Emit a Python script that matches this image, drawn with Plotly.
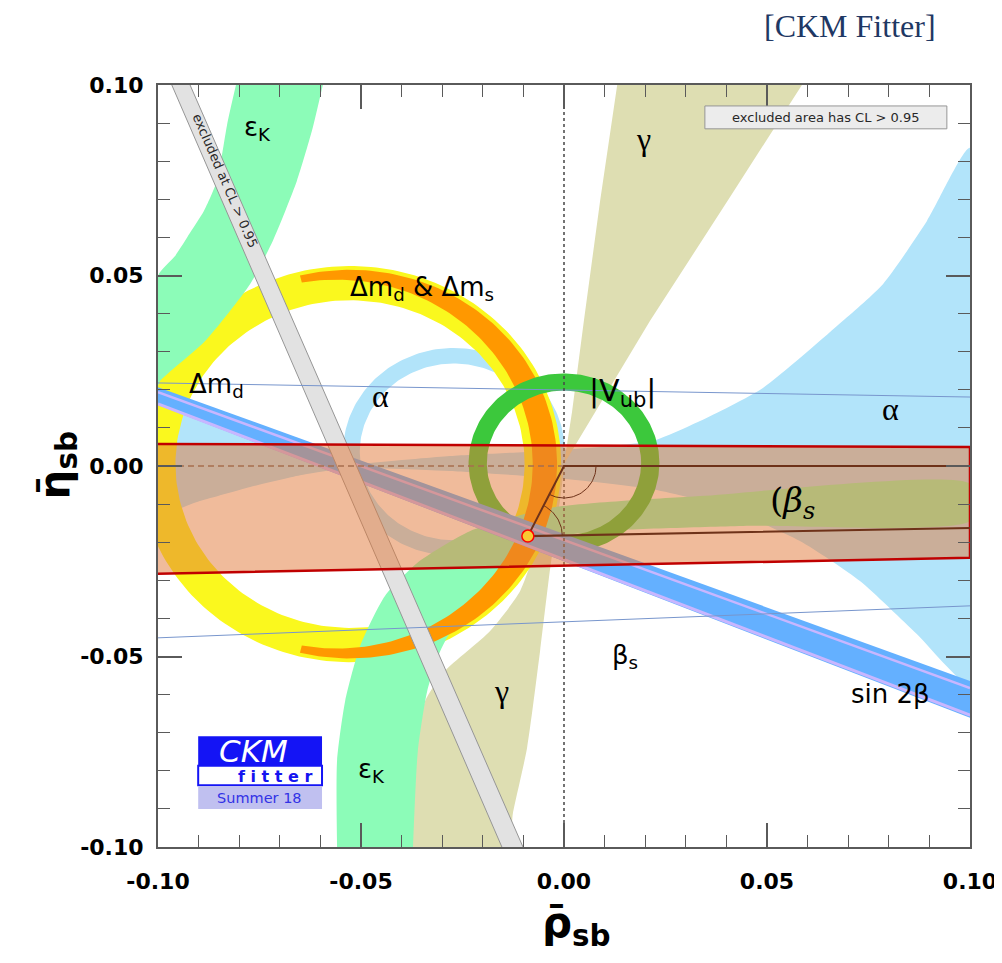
import numpy as np
import plotly.graph_objects as go

# ---------------- data (rho_bar_sb , eta_bar_sb) ----------------
epsK_upper_x = [-0.0808, -0.0828, -0.0855, -0.0887, -0.0921, -0.0958, -0.1, -0.1, -0.0995, -0.0884, -0.0773, -0.0717, -0.0658, -0.0621, -0.0594]
epsK_upper_y = [0.1, 0.0906, 0.0748, 0.0669, 0.0612, 0.0551, 0.0499, 0.021, 0.0223, 0.0328, 0.0478, 0.0591, 0.0748, 0.0879, 0.1]
epsK_lower_x = [-0.0559, -0.0559, -0.0539, -0.0502, -0.0441, -0.0355, -0.0232, -0.0034, 0.0335, 0.1, 0.1, 0.0458, 0.0089, -0.0034, -0.0121, -0.0195, -0.0264, -0.0305, -0.0337, -0.036, -0.0372]
epsK_lower_y = [-0.1, -0.0774, -0.0617, -0.0472, -0.0341, -0.0249, -0.0171, -0.011, -0.0079, -0.0047, -0.0144, -0.0157, -0.0171, -0.0189, -0.0236, -0.0315, -0.0407, -0.0486, -0.0591, -0.0748, -0.1]

gamma_upper_x = [0.0131, 0.0089, 0.0049, 0.002, 0.0, 0.0064, 0.0212, 0.0409, 0.0586]
gamma_upper_y = [0.1, 0.0696, 0.0381, 0.0144, 0.0005, 0.0118, 0.0381, 0.0706, 0.1]
gamma_lower_x = [0.0, -0.0047, -0.0108, -0.0182, -0.0293, -0.0342, -0.0362, -0.0372, -0.0138, -0.0126, -0.0091, -0.0059, -0.0034, -0.001]
gamma_lower_y = [-0.0005, -0.0144, -0.0328, -0.0433, -0.0538, -0.0617, -0.074, -0.1, -0.1, -0.0913, -0.074, -0.0486, -0.0268, -0.0092]

alpha_right_x = [-0.0527, -0.0281, -0.0059, 0.0089, 0.0219, 0.0335, 0.049, 0.0687, 0.0786, 0.0894, 0.1, 0.1, 0.0869, 0.0729, 0.0581, 0.0384, 0.0212, 0.0002, -0.0281, -0.0527]
alpha_right_y = [0.0003, 0.0026, 0.0039, 0.005, 0.0066, 0.0118, 0.0205, 0.0381, 0.0478, 0.0643, 0.0835, -0.0572, -0.0441, -0.0302, -0.0197, -0.0105, -0.006, -0.0034, -0.0013, -0.0003]
alpha_left_x = [-0.0527, -0.0658, -0.0805, -0.0958, -0.1, -0.1, -0.0897, -0.0773, -0.065, -0.0527]
alpha_left_y = [0.0, 0.0066, 0.0123, 0.0171, 0.0189, -0.0123, -0.0092, -0.0055, -0.0024, -0.0003]
alpha_ring_center = [-0.0271, 0.0037]
alpha_ring_radii = [0.0232, 0.0273]

dm_ring_center = [-0.0527, 0.0005]
dm_ring_radii = [0.043, 0.052]
dms_outer_radius = 0.051
dms_inner_radius = 0.0483
dms_inner_variation = 0.0033
dms_half_span_deg = 104

vub_ring_center = [0.0, 0.0008]
vub_ring_radii = [0.019, 0.0235]

sin2b_x = [-0.1, 0.1]
sin2b_upper_y = [0.0207, -0.0564]
sin2b_lower_y = [0.016, -0.0661]
sin2b_stripe1_y = [0.0194, -0.0583]
sin2b_stripe2_y = [0.0163, -0.0654]

excl_y = [0.1, -0.1]
excl_left_x = [-0.0966, -0.0153]
excl_right_x = [-0.0921, -0.0101]

thin_x = [-0.1, 0.1]
thin1_y = [0.0218, 0.0181]
thin2_y = [-0.0451, -0.0367]

box_x = [-0.1012, 0.1, 0.1, -0.1012]
box_y = [0.0058, 0.005, -0.0241, -0.0283]

tri_x = [0.1, 0.0, -0.0089, 0.1]
tri_y = [0.0, 0.0, -0.0184, -0.0163]
apex = [-0.0089, -0.0184]

tick_vals = [-0.1, -0.05, 0.0, 0.05, 0.1]
tick_text = ["-0.10", "-0.05", "0.00", "0.05", "0.10"]

label_text = ["ε<sub>K</sub>", "ε<sub>K</sub>", "Δm<sub>d</sub> &amp; Δm<sub>s</sub>", "Δm<sub>d</sub>",
              "α", "α", "γ", "γ", "|V<sub>ub</sub>|", "β<sub>s</sub>", "sin 2β"]
label_x = [-0.0754, -0.0473, -0.035, -0.0855, -0.0453, 0.0803, 0.0195, -0.0153, 0.0145, 0.015, 0.0803]
label_y = [0.0885, -0.080, 0.0467, 0.021, 0.0184, 0.015, 0.0858, -0.059, 0.0192, -0.0499, -0.0598]

# ---------------- colours ----------------
C_EPSK = "rgb(140,252,184)"
C_GAMMA = "rgb(222,222,178)"
C_ALPHA = "rgb(178,228,250)"
C_YELLOW = "rgb(250,248,30)"
C_ORANGE = "rgb(255,152,0)"
C_VUB = "rgb(60,200,60)"
C_SIN2B = "rgb(100,176,255)"
C_LILAC = "rgb(200,182,255)"
C_GREY = "rgb(226,226,226)"
C_GREYEDGE = "rgb(150,150,150)"
C_BROWN = "rgb(110,50,25)"
C_AXIS = "rgb(90,90,90)"

fig = go.Figure()


def poly(x, y, color, spline=True):
    fig.add_trace(go.Scatter(x=x, y=y, mode="lines", fill="toself", fillcolor=color,
                             line=dict(width=0, shape="spline" if spline else "linear", smoothing=0.6),
                             hoverinfo="skip", showlegend=False))


def ring(center, radii, n=240):
    t = np.linspace(0, 2 * np.pi, n)
    xo = center[0] + radii[1] * np.cos(t)
    yo = center[1] + radii[1] * np.sin(t)
    xi = center[0] + radii[0] * np.cos(t[::-1])
    yi = center[1] + radii[0] * np.sin(t[::-1])
    return np.concatenate([xo, xi]), np.concatenate([yo, yi])


def line(x, y, color, width=1.0, dash=None):
    fig.add_trace(go.Scatter(x=x, y=y, mode="lines", line=dict(color=color, width=width, dash=dash),
                             hoverinfo="skip", showlegend=False))


# alpha
poly(alpha_left_x, alpha_left_y, C_ALPHA)
poly(alpha_right_x, alpha_right_y, C_ALPHA)
ax_, ay_ = ring(alpha_ring_center, alpha_ring_radii)
poly(ax_, ay_, C_ALPHA, spline=False)
# gamma
poly(gamma_upper_x, gamma_upper_y, C_GAMMA, spline=False)
poly(gamma_lower_x, gamma_lower_y, C_GAMMA)
# Delta m_d ring
dx_, dy_ = ring(dm_ring_center, dm_ring_radii)
poly(dx_, dy_, C_YELLOW, spline=False)
# eps_K
poly(epsK_upper_x, epsK_upper_y, C_EPSK)
poly(epsK_lower_x, epsK_lower_y, C_EPSK)
# Delta m_s (orange part of ring)
t = np.radians(np.linspace(-dms_half_span_deg, dms_half_span_deg, 160))
r_in = dms_inner_radius - dms_inner_variation * np.cos(t)
ox = np.concatenate([dm_ring_center[0] + dms_outer_radius * np.cos(t), (dm_ring_center[0] + r_in * np.cos(t))[::-1]])
oy = np.concatenate([dm_ring_center[1] + dms_outer_radius * np.sin(t), (dm_ring_center[1] + r_in * np.sin(t))[::-1]])
poly(ox, oy, C_ORANGE, spline=False)
# |Vub| ring
vx_, vy_ = ring(vub_ring_center, vub_ring_radii)
poly(vx_, vy_, C_VUB, spline=False)
# sin 2beta band
poly(sin2b_x + sin2b_x[::-1], sin2b_upper_y + sin2b_lower_y[::-1], C_SIN2B, spline=False)
line(sin2b_x, sin2b_stripe1_y, C_LILAC, 2.5)
line(sin2b_x, sin2b_stripe2_y, C_LILAC, 3)
# excluded grey band
poly(excl_left_x + excl_right_x[::-1], excl_y + excl_y[::-1], C_GREY, spline=False)
line(excl_left_x, excl_y, C_GREYEDGE, 1)
line(excl_right_x, excl_y, C_GREYEDGE, 1)
# thin lines
line(thin_x, thin1_y, "rgb(120,150,205)", 1)
line(thin_x, thin2_y, "rgb(120,150,205)", 1)
# reference lines
line([0, 0], [-0.1, 0.1], "rgb(70,70,70)", 1.5, "3px,3px")
line([-0.1, 0], [0, 0], "rgb(110,100,100)", 1.5, "6px,4px")
# red box
fig.add_trace(go.Scatter(x=box_x + box_x[:1], y=box_y + box_y[:1], mode="lines", fill="toself",
                         fillcolor="rgba(225,119,55,0.5)", line=dict(color="rgb(192,0,0)", width=2.5),
                         hoverinfo="skip", showlegend=False))
# unitarity triangle
line(tri_x, tri_y, C_BROWN, 2)
ta = np.radians(np.linspace(0, -118, 40))
line(list(0.0079 * np.cos(ta)), list(0.0084 * np.sin(ta)), C_BROWN, 1)
tb = np.radians(np.linspace(0, 62, 30))
line(list(apex[0] + 0.0085 * np.cos(tb)), list(apex[1] + 0.009 * np.sin(tb)), C_BROWN, 1)
fig.add_trace(go.Scatter(x=[apex[0]], y=[apex[1]], mode="markers",
                         marker=dict(size=12, color="rgb(250,200,50)", line=dict(color="red", width=1.5)),
                         hoverinfo="skip", showlegend=False))

FONT = "DejaVu Sans"
SERIF = "Liberation Serif"
ann = []
for txt, x, y in zip(label_text, label_x, label_y):
    greek_only = txt in ("α", "γ")
    fam = SERIF if greek_only else FONT
    size = 32 if greek_only else (30 if txt.startswith("|") else 26)
    ann.append(dict(x=x, y=y, xref="x", yref="y", text=txt, showarrow=False,
                    font=dict(family=fam, size=size, color="black"), xanchor="center", yanchor="middle"))

ann.append(dict(x=-0.0833, y=0.0748, xref="x", yref="y", text="excluded at CL &gt; 0.95", showarrow=False,
                textangle=66.6, font=dict(family=FONT, size=13, color="rgb(40,40,40)")))
ann.append(dict(x=0.0562, y=-0.0097, xref="x", yref="y", text="(<i>β<sub>s</sub></i>", showarrow=False,
                font=dict(family="DejaVu Serif", size=34, color="black")))
ann.append(dict(x=0.0645, y=0.0915, xref="x", yref="y", text="excluded area has CL &gt; 0.95", showarrow=False,
                font=dict(family=FONT, size=13, color="rgb(40,40,40)")))
# logo texts
ann.append(dict(x=-0.0766, y=-0.0748, xref="x", yref="y", text="<i>CKM</i>", showarrow=False,
                font=dict(family=FONT, size=31, color="white")))
ann.append(dict(x=-0.0712, y=-0.0814, xref="x", yref="y", text="<b>f i t t e r</b>", showarrow=False,
                font=dict(family=FONT, size=16, color="rgb(20,20,240)")))
ann.append(dict(x=-0.0749, y=-0.0871, xref="x", yref="y", text="Summer 18", showarrow=False,
                font=dict(family=FONT, size=14.5, color="rgb(50,50,230)")))
# axis titles and header
ann.append(dict(x=0.5, y=0, xref="paper", yref="paper", xanchor="center", yanchor="top", yshift=-49, xshift=12,
                text="ρ̄<sub>sb</sub>", showarrow=False,
                font=dict(family=FONT, size=42, color="black", weight="bold")))
ann.append(dict(x=0, y=0.5, xref="paper", yref="paper", xanchor="right", yanchor="middle", xshift=-72,
                textangle=-90, text="η̄<sub>sb</sub>", showarrow=False,
                font=dict(family=FONT, size=42, color="black", weight="bold")))
ann.append(dict(x=0.852, y=1, xref="paper", yref="paper", xanchor="center", yanchor="middle", yshift=59,
                text="[CKM Fitter]", showarrow=False,
                font=dict(family=SERIF, size=32, color="rgb(31,56,100)")))

shapes = [
    dict(type="rect", xref="x", yref="y", x0=0.0347, x1=0.0943, y0=0.0885, y1=0.0945,
         fillcolor="rgb(236,236,236)", line=dict(color="rgb(150,150,150)", width=1)),
    dict(type="rect", xref="x", yref="y", x0=-0.0901, x1=-0.0596, y0=-0.0787, y1=-0.0709,
         fillcolor="rgb(20,20,245)", line=dict(width=0)),
    dict(type="rect", xref="x", yref="y", x0=-0.0901, x1=-0.0596, y0=-0.0838, y1=-0.0787,
         fillcolor="white", line=dict(color="rgb(20,20,245)", width=2)),
    dict(type="rect", xref="x", yref="y", x0=-0.0901, x1=-0.0596, y0=-0.0900, y1=-0.0840,
         fillcolor="rgb(192,192,240)", line=dict(width=0)),
]

axis_common = dict(
    range=[-0.1, 0.1], showgrid=False, zeroline=False, showline=True, linecolor=C_AXIS, linewidth=2,
    mirror="ticks", ticks="inside", ticklen=24, tickwidth=1.5, tickcolor=C_AXIS, automargin=False,
    tickmode="array", tickvals=tick_vals, ticktext=tick_text,
    tickfont=dict(family=FONT, size=22, color="black", weight="bold"),
    minor=dict(tickmode="linear", tick0=0, dtick=0.01, ticklen=12, tickwidth=1.2, tickcolor=C_AXIS,
               ticks="inside", showgrid=False),
)

# the page body has an 8px margin: figure is shifted by 8px, so size/margins compensate
fig.update_layout(
    width=994, height=955,
    margin=dict(l=150, r=32, t=77, b=116, autoexpand=False),
    plot_bgcolor="white", paper_bgcolor="white",
    xaxis=dict(**axis_common, ticklabelstandoff=14),
    yaxis=dict(**axis_common, ticklabelstandoff=8),
    annotations=ann, shapes=shapes, showlegend=False,
)

fig.write_html("out.html")
